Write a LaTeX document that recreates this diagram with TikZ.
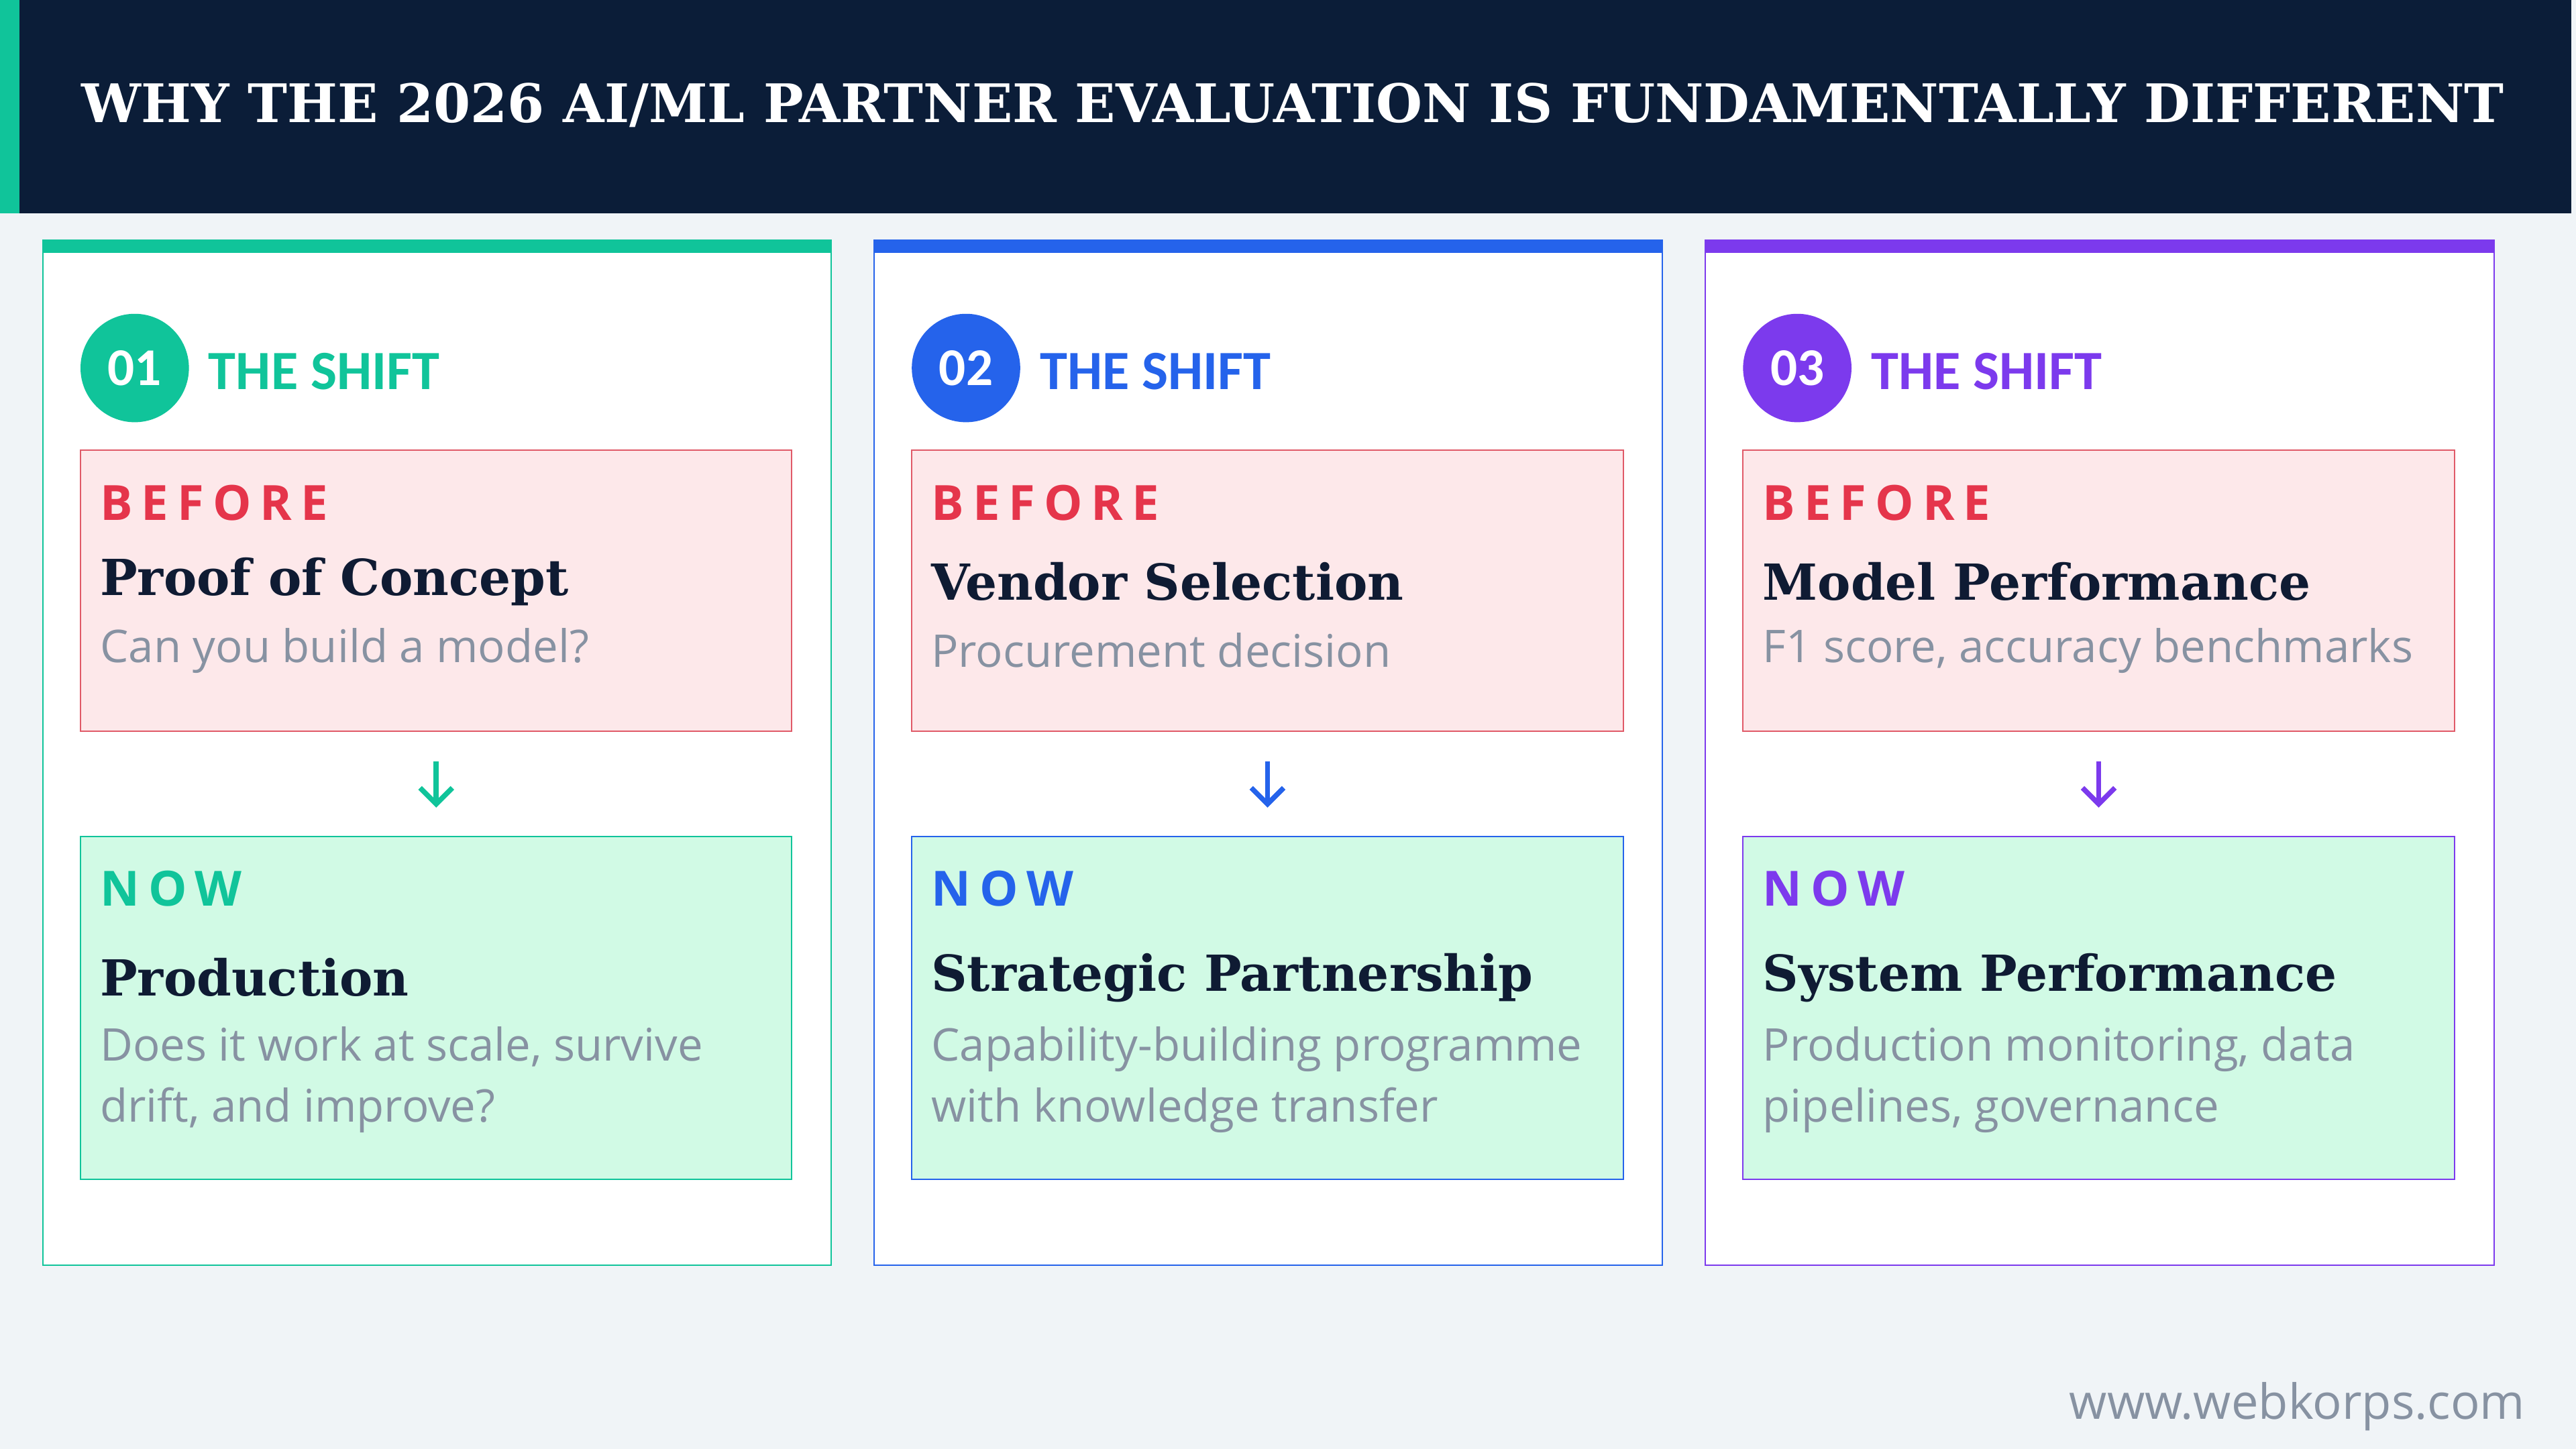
\documentclass[tikz,border=0pt]{standalone}
\usepackage{fontspec}
\setmainfont{Carlito}
\newfontfamily\headfont{DejaVu Serif}
\newfontfamily\bodyfont{Open Sans}
\usetikzlibrary{positioning,arrows.meta}
\definecolor{navy}{HTML}{0B1D38}
\definecolor{pagebg}{HTML}{F0F4F7}
\definecolor{cgreen}{HTML}{10C49A}
\definecolor{cblue}{HTML}{2563EB}
\definecolor{cpurple}{HTML}{7C3AED}
\definecolor{redtxt}{HTML}{E5354B}
\definecolor{redline}{HTML}{E05A68}
\definecolor{redfill}{HTML}{FDE8EA}
\definecolor{greenfill}{HTML}{D1FAE5}
\definecolor{subgrey}{HTML}{8792A2}
\definecolor{inktxt}{HTML}{0F1B33}
\tikzset{
  label text/.style={anchor=west,font=\bodyfont\fontsize{21}{24}\selectfont\bfseries\addfontfeature{LetterSpace=18}},
  head text/.style={anchor=west,text=inktxt,font=\headfont\fontsize{21.5}{24}\selectfont\bfseries},
  sub text/.style={anchor=west,text=subgrey,font=\bodyfont\fontsize{19.5}{26.5}\selectfont,align=left},
  stage box/.style={draw,line width=0.6pt,minimum width=433*0.025cm,inner sep=0pt},
}
% one card: x offset, colour, number, before title, before text, now title, now text
\newcommand\shiftcard[7]{
  \begin{scope}[xshift=#1*0.025cm]
  \fill[white] (26,-146) rectangle (506,-770);
  \draw[#2,line width=0.6pt] (26,-146) rectangle (506,-770);
  \fill[#2] (26,-146) rectangle (506,-154);
  \node[circle,fill=#2,minimum size=66*0.025cm,inner sep=0pt,text=white,
    font=\fontsize{23}{24}\selectfont\bfseries] (num#3) at (82,-224) {#3};
  \node[anchor=west,text=#2,font=\fontsize{24}{26}\selectfont\bfseries] (shift#3) at (122,-226) {THE SHIFT};
  \node[stage box,draw=redline,fill=redfill,minimum height=171*0.025cm] (before#3) at (265.5,-359.5) {};
  \node[label text,text=redtxt] at (56,-306) {BEFORE};
  \node[head text] at (56,-354) {#4};
  \node[sub text] at (56,-396) {#5};
  \node[stage box,draw=#2,fill=greenfill,minimum height=209*0.025cm] (now#3) at (265.5,-613.5) {};
  \node[label text,text=#2] at (56,-541) {NOW};
  \node[head text] at (56,-595) {#6};
  \node[sub text,anchor=north west] at (56,-620) {#7};
  \draw[-{Straight Barb[length=7pt,width=14pt]},#2,line width=2.2pt,
    shorten <=18*0.025cm,shorten >=17*0.025cm] (before#3) -- (now#3);
  \end{scope}
}

\begin{document}
\begin{tikzpicture}[x=0.025cm,y=0.025cm]
  \fill[pagebg] (0,0) rectangle (1568,-882);
  \fill[navy] (0,0) rectangle (1565,-130);
  \fill[cgreen] (0,0) rectangle (12,-130);
  \node[text=white,font=\headfont\fontsize{23}{26}\selectfont\bfseries] (title) at (787,-64)
    {WHY THE 2026 AI/ML PARTNER EVALUATION IS FUNDAMENTALLY DIFFERENT};
  \shiftcard{0}{cgreen}{01}{Proof of Concept}{Can you build a model?}{Production}{Does it work at scale, survive\\drift, and improve?}
  \shiftcard{506}{cblue}{02}{Vendor Selection}{Procurement decision}{Strategic Partnership}{Capability-building programme\\with knowledge transfer}
  \shiftcard{1012}{cpurple}{03}{Model Performance}{F1 score, accuracy benchmarks}{System Performance}{Production monitoring, data\\pipelines, governance}
  \node[anchor=east,text=subgrey,font=\bodyfont\fontsize{21}{24}\selectfont] (site) at (1542,-856) {www.webkorps.com};
\end{tikzpicture}
\end{document}
